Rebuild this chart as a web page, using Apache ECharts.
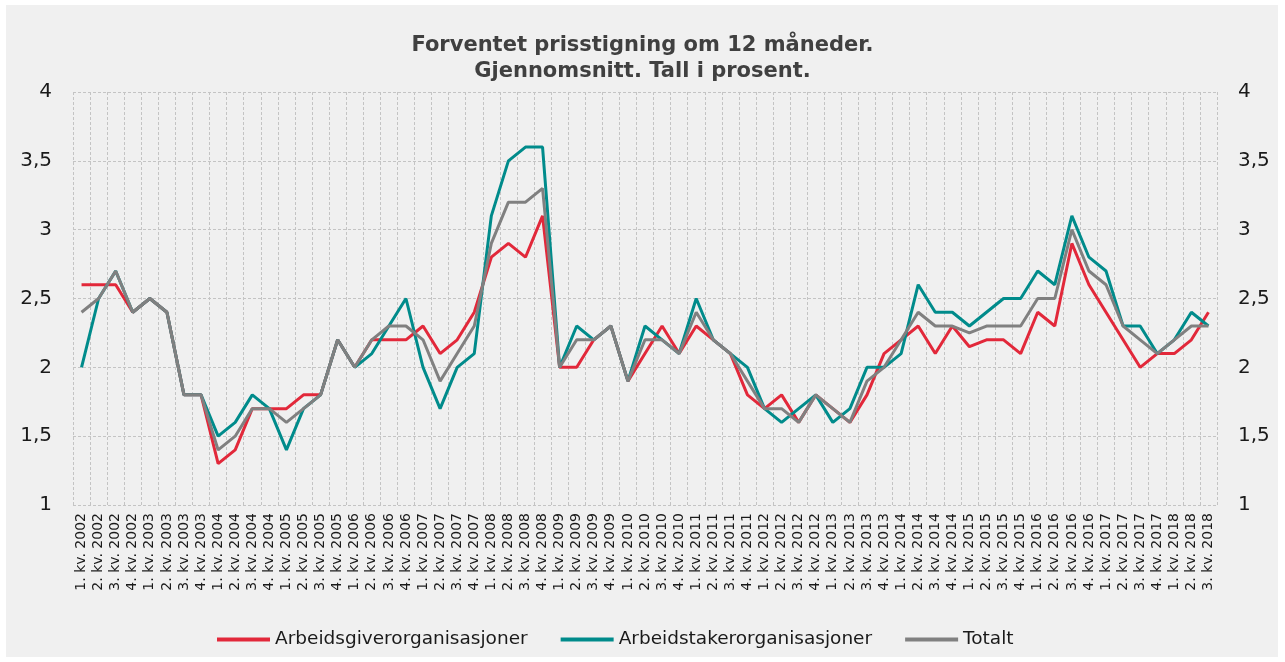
<!DOCTYPE html>
<html>
<head>
<meta charset="utf-8">
<script src="https://cdn.jsdelivr.net/npm/echarts@6/dist/echarts.min.js"></script>
<style>
html,body{margin:0;padding:0;background:#ffffff;}
#c{width:1285px;height:662px;}
</style>
</head>
<body>
<div id="c"></div>
<script>
const categories = (function(){
  const out = [];
  for (let y = 2002; y <= 2018; y++) {
    for (let q = 1; q <= 4; q++) {
      if (y === 2018 && q > 3) break;
      out.push(q + '. kv. ' + y);
    }
  }
  return out;
})();

const arbeidsgiver = [
  2.6, 2.6, 2.6, 2.4,
  2.5, 2.4, 1.8, 1.8,
  1.3, 1.4, 1.7, 1.7,
  1.7, 1.8, 1.8, 2.2,
  2.0, 2.2, 2.2, 2.2,
  2.3, 2.1, 2.2, 2.4,
  2.8, 2.9, 2.8, 3.1,
  2.0, 2.0, 2.2, 2.3,
  1.9, 2.1, 2.3, 2.1,
  2.3, 2.2, 2.1, 1.8,
  1.7, 1.8, 1.6, 1.8,
  1.7, 1.6, 1.8, 2.1,
  2.2, 2.3, 2.1, 2.3,
  2.15, 2.2, 2.2, 2.1,
  2.4, 2.3, 2.9, 2.6,
  2.4, 2.2, 2.0, 2.1,
  2.1, 2.2, 2.4
];

const arbeidstaker = [
  2.0, 2.5, 2.7, 2.4,
  2.5, 2.4, 1.8, 1.8,
  1.5, 1.6, 1.8, 1.7,
  1.4, 1.7, 1.8, 2.2,
  2.0, 2.1, 2.3, 2.5,
  2.0, 1.7, 2.0, 2.1,
  3.1, 3.5, 3.6, 3.6,
  2.0, 2.3, 2.2, 2.3,
  1.9, 2.3, 2.2, 2.1,
  2.5, 2.2, 2.1, 2.0,
  1.7, 1.6, 1.7, 1.8,
  1.6, 1.7, 2.0, 2.0,
  2.1, 2.6, 2.4, 2.4,
  2.3, 2.4, 2.5, 2.5,
  2.7, 2.6, 3.1, 2.8,
  2.7, 2.3, 2.3, 2.1,
  2.2, 2.4, 2.3
];

const totalt = [
  2.4, 2.5, 2.7, 2.4,
  2.5, 2.4, 1.8, 1.8,
  1.4, 1.5, 1.7, 1.7,
  1.6, 1.7, 1.8, 2.2,
  2.0, 2.2, 2.3, 2.3,
  2.2, 1.9, 2.1, 2.3,
  2.9, 3.2, 3.2, 3.3,
  2.0, 2.2, 2.2, 2.3,
  1.9, 2.2, 2.2, 2.1,
  2.4, 2.2, 2.1, 1.9,
  1.7, 1.7, 1.6, 1.8,
  1.7, 1.6, 1.9, 2.0,
  2.2, 2.4, 2.3, 2.3,
  2.25, 2.3, 2.3, 2.3,
  2.5, 2.5, 3.0, 2.7,
  2.6, 2.3, 2.2, 2.1,
  2.2, 2.3, 2.3
];

const seriesNames = ['Arbeidsgiverorganisasjoner', 'Arbeidstakerorganisasjoner', 'Totalt'];
const seriesColors = ['#E2283A', '#008B8B', '#808080'];
const titleText = 'Forventet prisstigning om 12 måneder.\nGjennomsnitt. Tall i prosent.';

const fmt = v => String(v).replace('.', ',');
const gridLine = {show: true, lineStyle: {color: '#c4c4c4', type: [3, 2], width: 1}};

const yAxisCommon = {
  type: 'value', min: 1, max: 4, interval: 0.5,
  axisLine: {show: false}, axisTick: {show: false},
  splitLine: gridLine,
  axisLabel: {formatter: fmt, color: '#1a1a1a', fontFamily: 'DejaVu Sans', fontSize: 20, margin: 21}
};

const chart = echarts.init(document.getElementById('c'), null, {renderer: 'canvas'});
chart.setOption({
  backgroundColor: '#ffffff',
  animation: false,
  graphic: [{type: 'rect', z: -10, shape: {x: 6, y: 5, width: 1272, height: 652}, style: {fill: '#f0f0f0'}}],
  title: {
    text: titleText, left: 'center', top: 28,
    textStyle: {fontFamily: 'DejaVu Sans', fontWeight: 'bold', fontSize: 21, lineHeight: 26, color: '#404040'}
  },
  legend: {
    top: 625, left: 212, itemGap: 33, itemWidth: 53, itemHeight: 4, icon: 'rect',
    textStyle: {fontFamily: 'DejaVu Sans', fontSize: 18.5, color: '#1a1a1a'},
    data: seriesNames
  },
  grid: {left: 73, right: 68, top: 92, bottom: 157},
  xAxis: {
    type: 'category', data: categories, boundaryGap: true,
    axisLine: {show: false}, axisTick: {show: false},
    splitLine: Object.assign({interval: 0}, gridLine),
    axisLabel: {interval: 0, rotate: 90, margin: 8, fontFamily: 'DejaVu Sans', fontSize: 14, color: '#1a1a1a'}
  },
  yAxis: [
    Object.assign({position: 'left'}, yAxisCommon),
    Object.assign({position: 'right'}, yAxisCommon, {splitLine: {show: false}})
  ],
  series: seriesNames.map((n, i) => ({
    name: n, type: 'line', yAxisIndex: 0,
    data: [arbeidsgiver, arbeidstaker, totalt][i],
    symbol: 'none', lineStyle: {width: 3, color: seriesColors[i]}, itemStyle: {color: seriesColors[i]}
  }))
});
</script>
</body>
</html>
